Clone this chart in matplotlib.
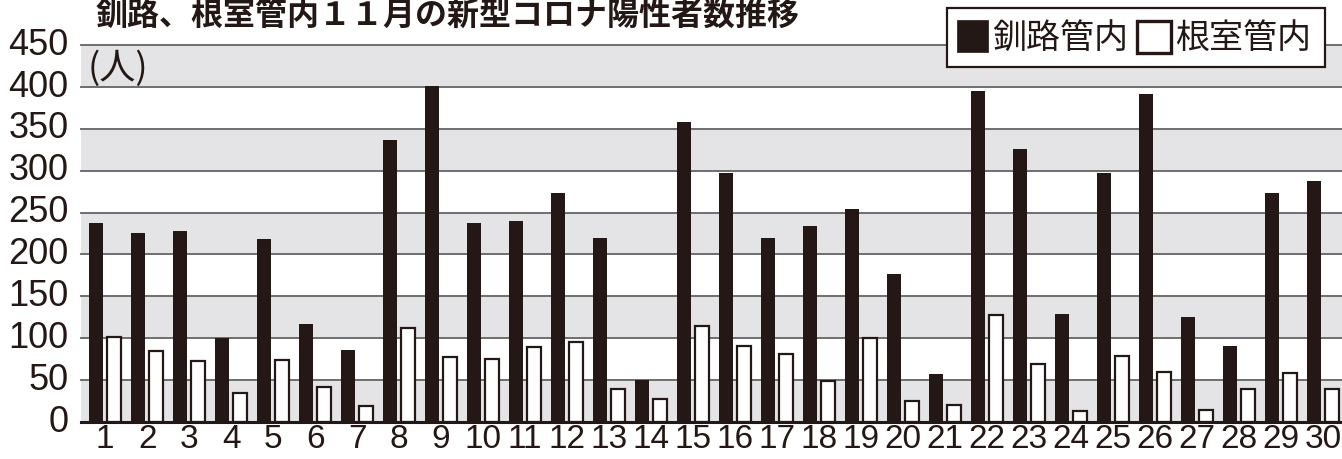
import matplotlib
matplotlib.use("Agg")
import matplotlib.pyplot as plt
from matplotlib.patches import Rectangle
from matplotlib.transforms import ScaledTranslation
import numpy as np

# ---- data ----
days = list(range(1, 31))
day_labels = [str(d) for d in days]
kushiro = [238, 226, 228, 100, 218, 117, 86, 337, 401, 238,
           240, 273, 220, 50, 358, 297, 220, 234, 254, 177,
           57, 395, 326, 129, 297, 392, 125, 91, 273, 288]
nemuro = [102, 85, 73, 35, 74, 42, 19, 112, 78, 75,
          89, 96, 39, 28, 114, 91, 81, 49, 100, 25,
          20, 128, 69, 13, 79, 60, 14, 39, 59, 39]
series_names = ["釧路管内", "根室管内"]
title = "釧路、根室管内１１月の新型コロナ陽性者数推移"
unit_label = "(人)"
y_ticks = list(range(0, 451, 50))

# ---- style ----
W, H = 1342, 460
INK = "#231815"
BAND = "#e4e4e6"
GRID = "#6e6e6e"
JP = ["Noto Sans CJK JP", "DejaVu Sans"]
NUM = ["Liberation Sans", "DejaVu Sans"]


def fx(x):
    return x / W


def fy(y):
    return 1 - y / H


fig = plt.figure(figsize=(W / 100, H / 100), dpi=100)
ax = fig.add_axes([fx(81), 37 / H, (W - 81) / W, 377 / H])

# alternating bands
for i, lo in enumerate(y_ticks[:-1]):
    if i % 2 == 0:
        ax.axhspan(lo, lo + 50, color=BAND, lw=0, zorder=0)
for t in y_ticks[1:]:
    ax.axhline(t, color=GRID, lw=1.4, zorder=1, clip_on=False)

x = np.array(days, dtype=float)
ax.bar(x - 0.21, kushiro, width=0.33, color=INK, lw=0, zorder=3)
ax.bar(x + 0.21, nemuro, width=0.33, facecolor="white", edgecolor=INK,
       lw=1.6, zorder=3)

ax.set_xlim(0.424, 30.45)
ax.set_ylim(0, 450)

for s in ["top", "right", "left"]:
    ax.spines[s].set_visible(False)
ax.spines["bottom"].set_color(INK)
ax.spines["bottom"].set_linewidth(2.2)
ax.spines["bottom"].set_zorder(5)

ax.set_yticks(y_ticks)
ax.set_yticklabels([str(t) for t in y_ticks], family=NUM, fontsize=26,
                   color=INK)
ax.tick_params(axis="y", length=0, pad=9)
ax.set_xticks(x)
ax.set_xticklabels(day_labels, family=NUM, fontsize=24, color=INK)
ax.tick_params(axis="x", length=0, pad=0.5)

off = ScaledTranslation(0, 3.5 / 72, fig.dpi_scale_trans)
for lbl in ax.get_yticklabels():
    lbl.set_transform(lbl.get_transform() + off)

# title
fig.text(fx(96), fy(16), title, family=JP, fontsize=23, fontweight="bold",
         color=INK, ha="left", va="center")

# unit label
fig.text(fx(88), fy(69), unit_label, family=JP, fontsize=26, color=INK,
         ha="left", va="center")

# legend (manual)
def rect(x0, y0, x1, y1, **kw):
    r = Rectangle((fx(x0), fy(y1)), fx(x1) - fx(x0), fy(y0) - fy(y1),
                  transform=fig.transFigure, **kw)
    fig.add_artist(r)

rect(947, 9, 1325, 68, facecolor="white", edgecolor=INK, lw=1.6, zorder=6)
rect(957, 21, 988, 53, facecolor=INK, edgecolor=INK, lw=0.5, zorder=7)
fig.text(fx(992), fy(38), series_names[0], family=JP, fontsize=24.5,
         color=INK, ha="left", va="center", zorder=8)
rect(1137, 22, 1171, 54, facecolor="white", edgecolor=INK, lw=2.4, zorder=7)
fig.text(fx(1175), fy(38), series_names[1], family=JP, fontsize=24.5,
         color=INK, ha="left", va="center", zorder=8)

fig.savefig("out.png", dpi=100)
